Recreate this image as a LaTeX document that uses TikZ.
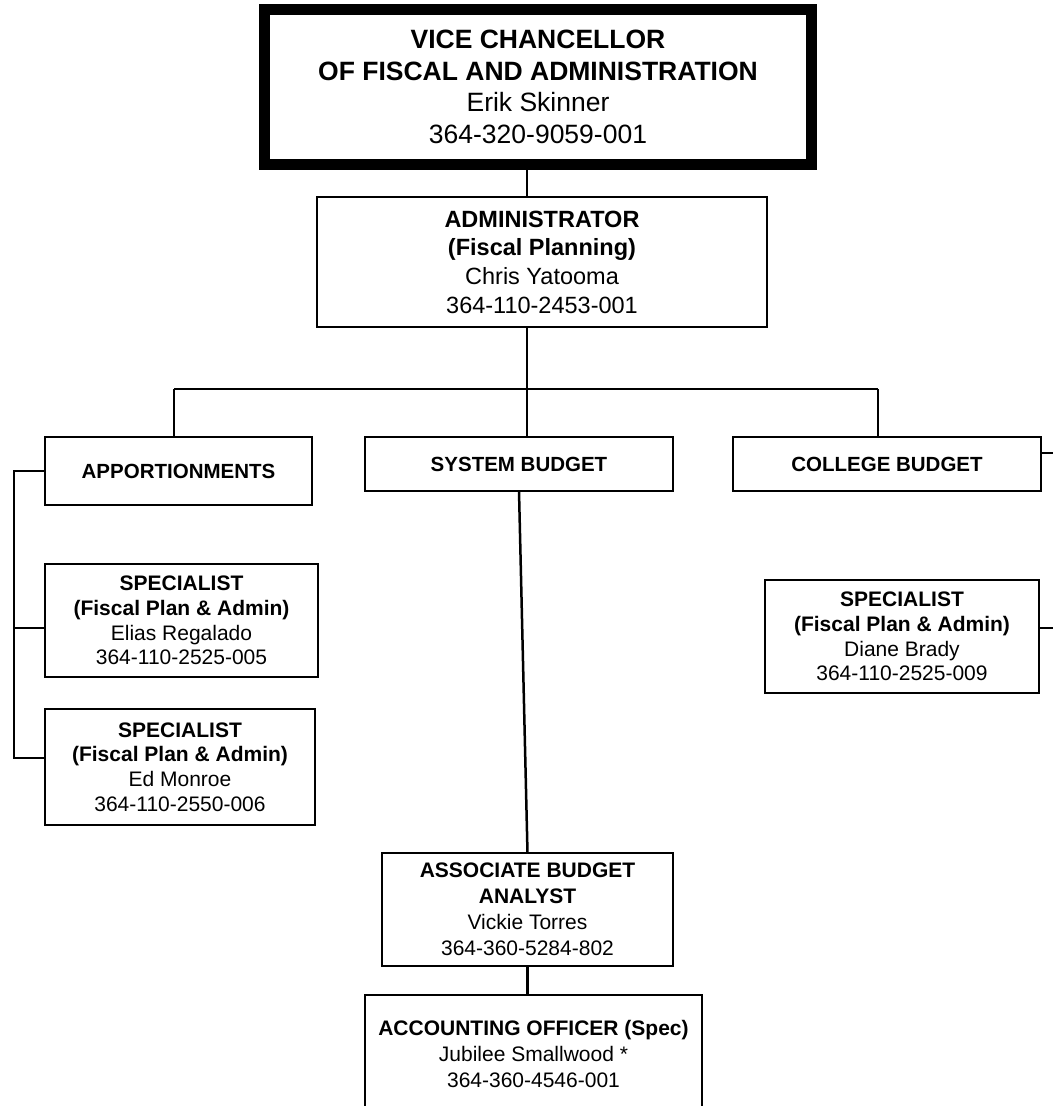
\documentclass[tikz,border=0pt]{standalone}
\usepackage{fontspec}
\setmainfont{Liberation Sans}
\newcommand\myfs[2]{\fontsize{#1}{#2}\selectfont}
\begin{document}
\begin{tikzpicture}[x=1pt,y=-1pt,
  box/.style={draw, rectangle, line width=2.5pt, inner sep=0pt, outer sep=0pt, align=center},
  conn/.style={line width=2.5pt},
  vcfont/.style={font=\myfs{26.5}{31.7}},
  admfont/.style={font=\myfs{23.5}{28.7}},
  unitfont/.style={font=\myfs{20.5}{24}\bfseries},
  spfont/.style={font=\myfs{21}{24.7}},
  asfont/.style={font=\myfs{21}{26}}]
\useasboundingbox (0,0) rectangle (1053,1106);
\clip (0,0) rectangle (1053,1106);

% boxes
\node[box, line width=11pt, minimum width=547pt, minimum height=155pt, vcfont] (vc) at (538,87)
  {\textbf{VICE CHANCELLOR}\\\textbf{OF FISCAL AND ADMINISTRATION}\\Erik Skinner\\364-320-9059-001};
\node[box, minimum width=450pt, minimum height=130pt, admfont] (adm) at (542,262)
  {\textbf{ADMINISTRATOR}\\\textbf{(Fiscal Planning)}\\Chris Yatooma\\364-110-2453-001};
\node[box, minimum width=267pt, minimum height=68pt, unitfont] (app) at (178.5,471) {APPORTIONMENTS};
\node[box, minimum width=308pt, minimum height=54pt, unitfont] (sys) at (519,464) {SYSTEM BUDGET};
\node[box, minimum width=308pt, minimum height=54pt, unitfont] (col) at (887,464) {COLLEGE BUDGET};
\node[box, minimum width=273pt, minimum height=113pt, spfont] (sp1) at (181.5,620.5)
  {\textbf{SPECIALIST}\\\textbf{(Fiscal Plan \& Admin)}\\Elias Regalado\\364-110-2525-005};
\node[box, minimum width=270pt, minimum height=116pt, spfont] (sp2) at (180,767)
  {\textbf{SPECIALIST}\\\textbf{(Fiscal Plan \& Admin)}\\Ed Monroe\\364-110-2550-006};
\node[box, minimum width=274pt, minimum height=113pt, spfont] (dia) at (902,636.5)
  {\textbf{SPECIALIST}\\\textbf{(Fiscal Plan \& Admin)}\\Diane Brady\\364-110-2525-009};
\node[box, minimum width=291pt, minimum height=113pt, asfont] (asc) at (527.5,909.5)
  {\textbf{ASSOCIATE BUDGET}\\\textbf{ANALYST}\\Vickie Torres\\364-360-5284-802};
\node[box, minimum width=337pt, minimum height=118pt, asfont] (acc) at (533.5,1054)
  {\textbf{ACCOUNTING OFFICER (Spec)}\\Jubilee Smallwood *\\364-360-4546-001};

% junction coordinates
\coordinate (spine) at (527,389);
\coordinate (busL) at (174,389);
\coordinate (busR) at (878,389);
\coordinate (lbB) at (14,758);
\coordinate (lbM) at (14,628);
\coordinate (re1) at (1053,453);
\coordinate (re2) at (1053,628);

% connectors
\draw[conn] (vc.south -| spine) -- (adm.north -| spine);
\draw[conn] (adm.south -| spine) -- (spine);
\draw[conn] (busL) -- (busR);
\draw[conn] (busL) -- (busL |- app.north);
\draw[conn] (spine) -- (spine |- sys.north);
\draw[conn] (busR) -- (busR |- col.north);
\draw[conn] (app.west) -| (lbB) -- (lbB -| sp2.west);
\draw[conn] (lbM) -- (lbM -| sp1.west);
\draw[conn] (col.east |- re1) -- (re1);
\draw[conn] (dia.east |- re2) -- (re2);
\draw[conn] (sys.south) -- (asc.north);
\draw[conn] (asc.south) -- (asc.south |- acc.north);
\end{tikzpicture}
\end{document}
